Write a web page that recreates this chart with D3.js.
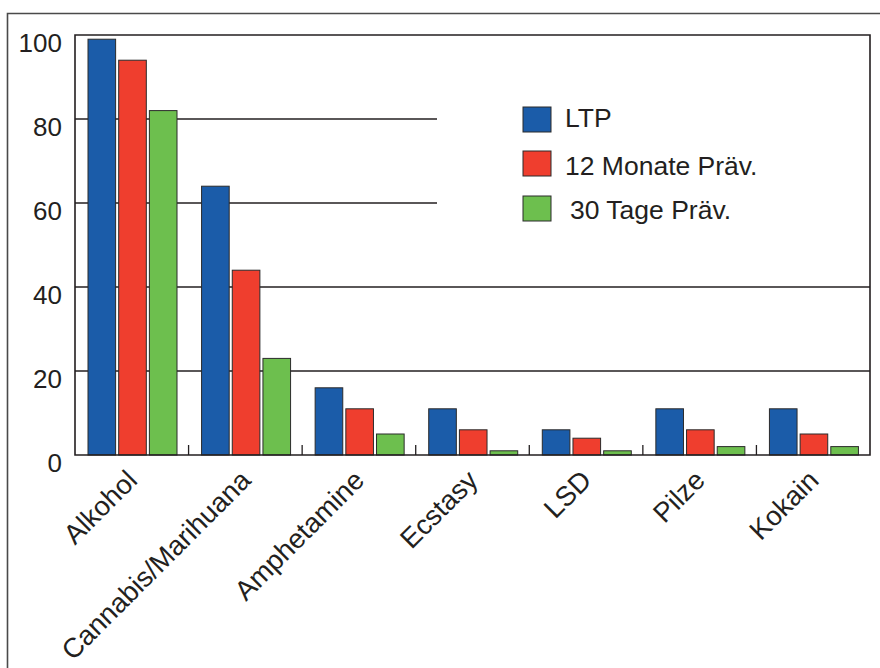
<!DOCTYPE html>
<html>
<head>
<meta charset="utf-8">
<script src="https://cdn.jsdelivr.net/npm/d3@7"></script>
<style>
  html, body { margin: 0; padding: 0; background: #fff; }
  svg { display: block; }
  text { font-family: "Liberation Sans", Arial, Helvetica, sans-serif; fill: #231f20; }
</style>
</head>
<body>
<svg id="chart" width="880" height="668"></svg>
<script>
const categories = ["Alkohol", "Cannabis/Marihuana", "Amphetamine", "Ecstasy", "LSD", "Pilze", "Kokain"];
const seriesNames = ["LTP", "12 Monate Präv.", "30 Tage Präv."];
const ltp = [99, 64, 16, 11, 6, 11, 11];
const monate12 = [94, 44, 11, 6, 4, 6, 5];
const tage30 = [82, 23, 5, 1, 1, 2, 2];
const seriesColors = ["#1b5ca9", "#ef3e2e", "#6dbf4e"];
const yTicks = [0, 20, 40, 60, 80, 100];

const seriesValues = [ltp, monate12, tage30];

const svg = d3.select("#chart");
const pLeft = 75, pRight = 870, pTop = 35, pBottom = 455;

const x = d3.scaleBand().domain(categories).range([pLeft, pRight]).paddingInner(0).paddingOuter(0);
const xs = d3.scaleBand().domain(seriesNames).range([13, 102]).paddingInner(0.1);
const y = d3.scaleLinear().domain([0, 100]).range([pBottom, pTop]);

// outer frame
svg.append("path")
  .attr("d", `M7.5,668 L7.5,13.5 L880,13.5`)
  .attr("fill", "none").attr("stroke", "#4a4a4a").attr("stroke-width", 1.6);

// gridlines: short ones (60, 80) stop before the legend
const gridDefs = [
  {v: 20, x2: pRight}, {v: 40, x2: pRight}, {v: 60, x2: 437}, {v: 80, x2: 437}
];
svg.append("g").selectAll("line").data(gridDefs).join("line")
  .attr("x1", pLeft).attr("x2", d => d.x2)
  .attr("y1", d => y(d.v)).attr("y2", d => y(d.v))
  .attr("stroke", "#231f20").attr("stroke-width", 1.3);

// bars
const groups = svg.append("g").selectAll("g").data(categories).join("g")
  .attr("transform", d => `translate(${x(d)},0)`);
groups.selectAll("rect")
  .data((c, i) => seriesNames.map((s, j) => ({s, j, v: seriesValues[j][i]})))
  .join("rect")
  .attr("x", d => xs(d.s))
  .attr("width", xs.bandwidth())
  .attr("y", d => y(d.v))
  .attr("height", d => y(0) - y(d.v))
  .attr("fill", d => seriesColors[d.j])
  .attr("stroke", "#2b2b2b").attr("stroke-width", 1);

// plot frame
svg.append("path")
  .attr("d", `M${pLeft},${pBottom} L${pLeft},${pTop} L${pRight},${pTop} L${pRight},${pBottom} Z`)
  .attr("fill", "none").attr("stroke", "#231f20").attr("stroke-width", 1.6);

// group separator ticks
svg.append("g").selectAll("line").data(categories.slice(1)).join("line")
  .attr("x1", d => x(d)).attr("x2", d => x(d))
  .attr("y1", pBottom).attr("y2", pBottom - 10)
  .attr("stroke", "#231f20").attr("stroke-width", 1.3);

// y axis labels
const yAxis = d3.axisLeft(y).tickValues(yTicks).tickSize(0).tickPadding(13);
const gy = svg.append("g").attr("transform", `translate(${pLeft},0)`).call(yAxis);
gy.select(".domain").remove();
gy.selectAll("text")
  .attr("font-size", 26)
  .attr("font-family", "'Liberation Sans', Arial, sans-serif")
  .attr("fill", "#231f20")
  .attr("dy", "0.56em")
  .attr("transform", "translate(0,2)");

// x axis labels
const xAxis = d3.axisBottom(x).tickSize(0).tickPadding(0);
const gx = svg.append("g").attr("transform", `translate(0,${pBottom})`).call(xAxis);
gx.select(".domain").remove();
gx.selectAll("text")
  .attr("font-size", 27.5)
  .attr("font-family", "'Liberation Sans', Arial, sans-serif")
  .attr("fill", "#231f20")
  .attr("text-anchor", "end")
  .attr("dy", null)
  .attr("y", 0)
  .attr("transform", "translate(7,27) rotate(-45)");

// legend
const legendRows = [
  {name: seriesNames[0], y: 107, tx: 565, ty: 127},
  {name: seriesNames[1], y: 151, tx: 565, ty: 175},
  {name: seriesNames[2], y: 196, tx: 570, ty: 219}
];
const lg = svg.append("g");
lg.selectAll("rect").data(legendRows).join("rect")
  .attr("x", 523).attr("y", d => d.y).attr("width", 28).attr("height", 25)
  .attr("fill", (d, i) => seriesColors[i])
  .attr("stroke", "#2b2b2b").attr("stroke-width", 1);
lg.selectAll("text").data(legendRows).join("text")
  .attr("x", d => d.tx).attr("y", d => d.ty)
  .attr("font-size", 26.5)
  .text(d => d.name);
</script>
</body>
</html>
